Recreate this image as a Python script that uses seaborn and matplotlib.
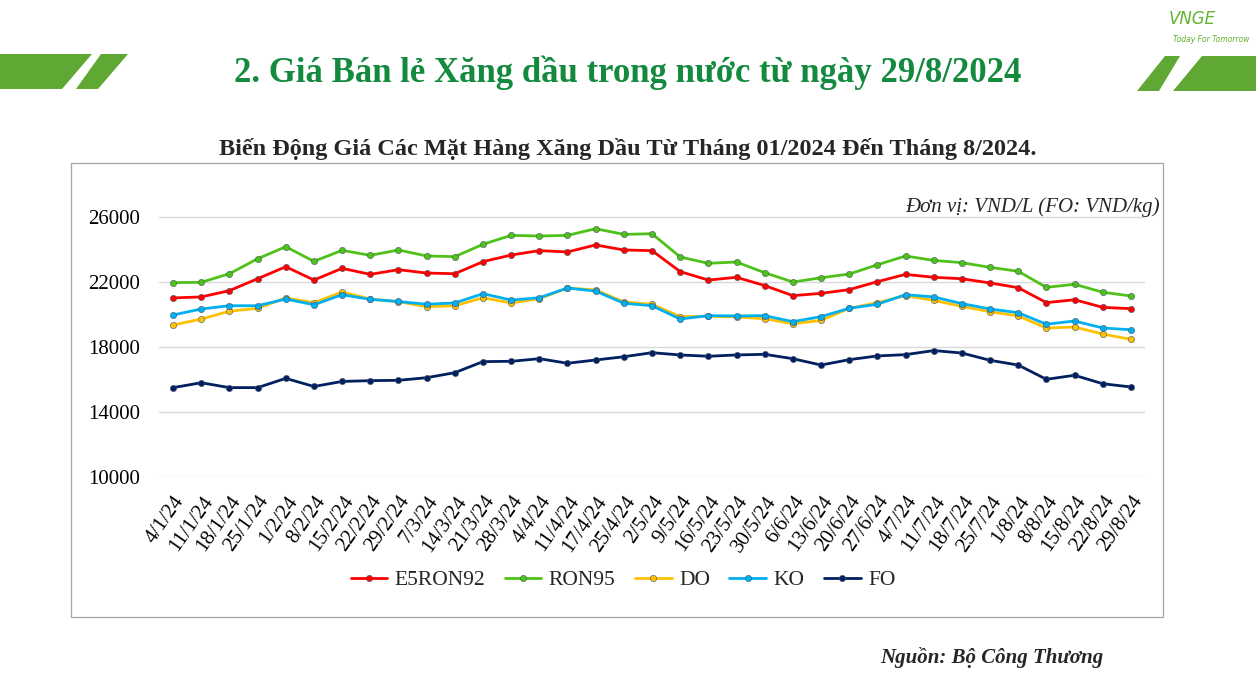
import pandas as pd
import matplotlib.pyplot as plt
import seaborn as sns
from matplotlib.patches import Polygon, Rectangle

dates = ["4/1/24", "11/1/24", "18/1/24", "25/1/24", "1/2/24", "8/2/24", "15/2/24", "22/2/24",
         "29/2/24", "7/3/24", "14/3/24", "21/3/24", "28/3/24", "4/4/24", "11/4/24", "17/4/24",
         "25/4/24", "2/5/24", "9/5/24", "16/5/24", "23/5/24", "30/5/24", "6/6/24", "13/6/24",
         "20/6/24", "27/6/24", "4/7/24", "11/7/24", "18/7/24", "25/7/24", "1/8/24", "8/8/24",
         "15/8/24", "22/8/24", "29/8/24"]

e5ron92 = [21020, 21080, 21470, 22200, 22940, 22120, 22840, 22470, 22760, 22550, 22510, 23250,
           23660, 23930, 23850, 24280, 23970, 23930, 22640, 22120, 22290, 21780, 21160, 21300,
           21530, 22020, 22470, 22290, 22200, 21940, 21650, 20730, 20910, 20440, 20360]
ron95 = [21960, 21980, 22510, 23430, 24170, 23270, 23950, 23640, 23970, 23600, 23560, 24320,
         24870, 24830, 24870, 25280, 24930, 24970, 23540, 23150, 23230, 22570, 22000, 22260,
         22490, 23060, 23600, 23330, 23190, 22900, 22660, 21670, 21860, 21370, 21140]
do = [19350, 19720, 20200, 20380, 21020, 20730, 21380, 20950, 20790, 20480, 20540, 21030,
      20710, 20970, 21630, 21510, 20770, 20630, 19870, 19890, 19850, 19740, 19430, 19640,
      20380, 20730, 21160, 20870, 20500, 20170, 19910, 19170, 19230, 18800, 18470]
ko = [19970, 20340, 20540, 20540, 20950, 20600, 21220, 20930, 20800, 20630, 20710, 21280,
      20890, 21030, 21630, 21440, 20690, 20540, 19720, 19930, 19910, 19930, 19560, 19870,
      20380, 20630, 21220, 21080, 20670, 20340, 20110, 19400, 19600, 19170, 19060]
fo = [15500, 15800, 15500, 15500, 16070, 15570, 15880, 15930, 15950, 16110, 16420, 17100,
      17120, 17280, 17000, 17200, 17400, 17650, 17510, 17430, 17510, 17550, 17280, 16890,
      17220, 17450, 17530, 17780, 17630, 17180, 16890, 16010, 16260, 15740, 15540]

series = {"E5RON92": e5ron92, "RON95": ron95, "DO": do, "KO": ko, "FO": fo}
colors = {"E5RON92": "#ff0000", "RON95": "#4fc21a", "DO": "#ffc000", "KO": "#00b0f0", "FO": "#002060"}

df = pd.DataFrame(series)
df["date"] = dates
long = df.melt(id_vars="date", var_name="item", value_name="price")

sns.set_style("white")
plt.rcParams["font.family"] = ["Liberation Serif", "DejaVu Serif"]

fig = plt.figure(figsize=(12.56, 6.96), dpi=100)

# chart frame
fig.patches.append(Rectangle((71 / 1256, 1 - 617 / 696), (1163 - 71) / 1256, (617 - 163) / 696,
                             transform=fig.transFigure, fill=False, edgecolor="#a6a6a6", lw=0.9))

# green header stripes
green = "#5fa833"
def stripe(pts):
    fig.patches.append(Polygon([(x / 1256, 1 - y / 696) for x, y in pts], closed=True,
                               transform=fig.transFigure, color=green, lw=0))

stripe([(0, 54), (92, 54), (62, 89), (0, 89)])
stripe([(101, 54), (128, 54), (98, 89), (76, 89)])
stripe([(1165, 56), (1180, 56), (1159, 91), (1137, 91)])
stripe([(1202, 56), (1256, 56), (1256, 91), (1173, 91)])

fig.text(0.5, 1 - 73 / 696, "2. Giá Bán lẻ Xăng dầu trong nước từ ngày 29/8/2024",
         ha="center", va="center", fontsize=25, fontweight="bold", color="#138a3e")
fig.text(1192 / 1256, 1 - 19 / 696, "VNGE", ha="center", va="center", fontsize=12,
         style="italic", color="#62b32e", family="DejaVu Sans")
fig.text(1211 / 1256, 1 - 40 / 696, "Today For Tomorrow", ha="center", va="center", fontsize=5.5,
         style="italic", color="#62b32e", family="DejaVu Sans")

fig.text(628 / 1256, 1 - 149 / 696, "Biến Động Giá Các Mặt Hàng Xăng Dầu Từ Tháng 01/2024 Đến Tháng 8/2024.",
         ha="center", va="center", fontsize=17.5, fontweight="bold")
fig.text(1160 / 1256, 1 - 207 / 696, "Đơn vị: VND/L (FO: VND/kg)", ha="right", va="center",
         fontsize=15, style="italic")
fig.text(992 / 1256, 1 - 657 / 696, "Nguồn: Bộ Công Thương", ha="center", va="center",
         fontsize=15, style="italic", fontweight="bold")

ax = fig.add_axes([159 / 1256, 1 - 477 / 696, 986 / 1256, (477 - 184.5) / 696])
sns.lineplot(data=long, x="date", y="price", hue="item", palette=colors, marker="o",
             markersize=4.5, markeredgewidth=0.4, markeredgecolor="#44546a", linewidth=2.0,
             sort=False, ax=ax, legend=True)

ax.set_xlim(-0.5, len(dates) - 0.5)
ax.set_ylim(10000, 28000)
ax.set_yticks([10000, 14000, 18000, 22000, 26000])
ax.grid(axis="y", color="#d9d9d9", lw=1)
ax.grid(axis="x", visible=False)
for s in ax.spines.values():
    s.set_visible(False)
ax.set_xlabel("")
ax.set_ylabel("")
ax.tick_params(axis="both", length=0, colors="#000000")
ax.tick_params(axis="y", pad=13.5, labelsize=15)
ax.tick_params(axis="x", pad=11)
ax.set_xticks(range(len(dates)))
ax.set_xticklabels(dates, rotation=55, ha="right", va="top", rotation_mode="anchor", fontsize=15)

handles, labels = ax.get_legend_handles_labels()
ax.legend(handles, labels, loc="center", bbox_to_anchor=(623 / 1256, 1 - 580 / 696),
          bbox_transform=fig.transFigure, ncol=5, frameon=False, fontsize=15.5,
          handlelength=1.7, columnspacing=0.9, handletextpad=0.35)

fig.savefig("out.png", dpi=100)
